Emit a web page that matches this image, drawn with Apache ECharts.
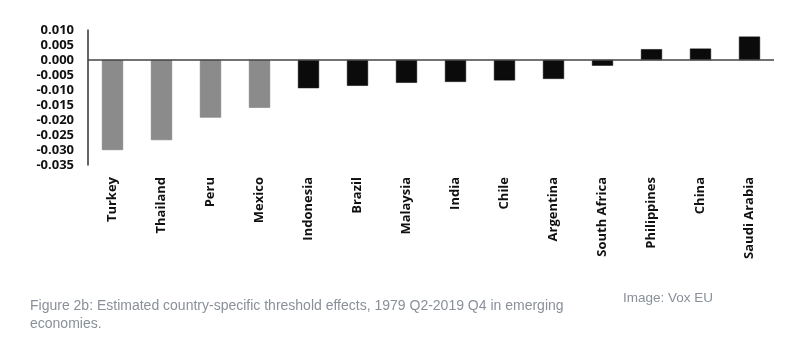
<!DOCTYPE html>
<html><head><meta charset="utf-8">
<script src="https://cdn.jsdelivr.net/npm/echarts@6/dist/echarts.min.js"></script>
<style>
html,body{margin:0;padding:0;background:#fff;}
#c{position:absolute;left:0;top:0;width:791px;height:358px;}
.cap{position:absolute;font-family:"Liberation Sans",Arial,sans-serif;color:#8a9099;line-height:18px;white-space:nowrap;}
</style>
</head><body>
<div id="c"></div>
<div class="cap" style="left:30px;top:296px;font-size:14px;">Figure 2b: Estimated country-specific threshold effects, 1979 Q2-2019 Q4 in emerging<br>economies.</div>
<div class="cap" style="left:623px;top:289px;font-size:13.5px;">Image: Vox EU</div>
<script>
const categories = ["Turkey","Thailand","Peru","Mexico","Indonesia","Brazil","Malaysia","India","Chile","Argentina","South Africa","Philippines","China","Saudi Arabia"];
const values = [-0.0300,-0.0267,-0.0192,-0.0159,-0.0094,-0.0086,-0.0076,-0.0073,-0.0068,-0.0063,-0.0019,0.0036,0.0038,0.0078];
const grayGroup = ["Turkey","Thailand","Peru","Mexico"];

const chart = echarts.init(document.getElementById('c'), null, {renderer:'canvas'});
chart.setOption({
  animation:false,
  grid:{left:88,top:30,right:17,bottom:193,containLabel:false},
  xAxis:{
    type:'category', data:categories, position:'bottom',
    axisLine:{show:false}, axisTick:{show:false},
    axisLabel:{rotate:90, interval:0, margin:12, color:'#111', fontFamily:'Open Sans', fontWeight:'bold', fontSize:13}
  },
  yAxis:{
    type:'value', min:-0.035, max:0.010, interval:0.005,
    axisLine:{show:true, lineStyle:{color:'#333', width:1.5}},
    axisTick:{show:false}, splitLine:{show:false},
    axisLabel:{color:'#111', fontFamily:'Open Sans', fontWeight:'bold', fontSize:13, margin:14,
      formatter:v=>v.toFixed(3)}
  },
  series:[{
    type:'bar', barWidth:'43%',
    data: values.map((v,i)=>({value:v, itemStyle:{
      color: grayGroup.includes(categories[i]) ? '#8b8b8b' : '#0b0b0b',
      borderColor: grayGroup.includes(categories[i]) ? '#6e6e6e' : '#000', borderWidth:0.5}})),
    markLine:{silent:true, symbol:'none', label:{show:false},
      lineStyle:{color:'#444', width:1.5, type:'solid'}, data:[{yAxis:0}]}
  }]
});
</script>
</body></html>
